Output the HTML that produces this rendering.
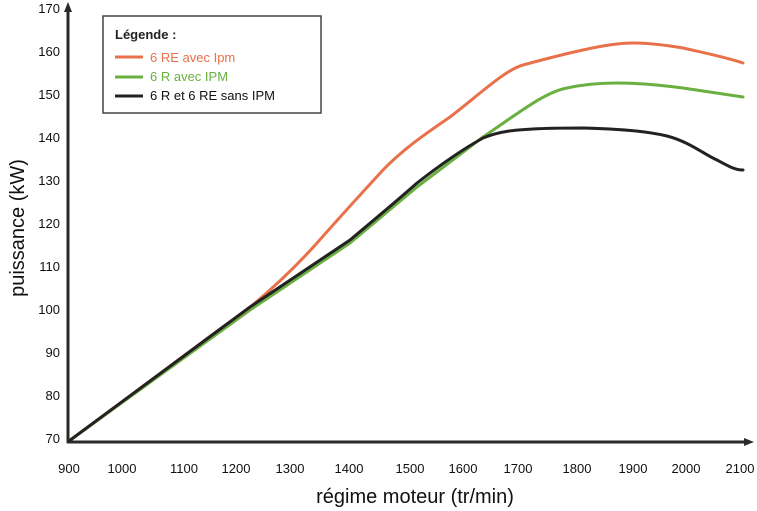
<!DOCTYPE html>
<html><head><style>body{margin:0;background:#fff}svg{display:block}text{font-family:"Liberation Sans",sans-serif}</style></head><body>
<svg width="757" height="511" viewBox="0 0 757 511">
<g stroke="#2a2a2a" stroke-width="3" fill="none">
<line x1="68" y1="443" x2="68" y2="10"/><line x1="67" y1="442" x2="746" y2="442"/>
</g>
<polygon points="68,2 64,12 72,12" fill="#2a2a2a"/>
<polygon points="754,442 744,438 744,446" fill="#2a2a2a"/>
<g font-size="13" fill="#111" text-anchor="end">
<text x="60" y="443">70</text><text x="60" y="400">80</text><text x="60" y="357">90</text><text x="60" y="314">100</text><text x="60" y="271">110</text><text x="60" y="228">120</text><text x="60" y="185">130</text><text x="60" y="142">140</text><text x="60" y="99">150</text><text x="60" y="56">160</text><text x="60" y="13">170</text>
</g>
<g font-size="13" fill="#111" text-anchor="middle">
<text x="69" y="473">900</text><text x="122" y="473">1000</text><text x="184" y="473">1100</text><text x="236" y="473">1200</text><text x="290" y="473">1300</text><text x="349" y="473">1400</text><text x="410" y="473">1500</text><text x="463" y="473">1600</text><text x="518" y="473">1700</text><text x="577" y="473">1800</text><text x="633" y="473">1900</text><text x="686" y="473">2000</text><text x="740" y="473">2100</text>
</g>
<text x="415" y="503" font-size="20" text-anchor="middle" fill="#111">régime moteur (tr/min)</text>
<text transform="translate(24,228) rotate(-90)" font-size="20" text-anchor="middle" fill="#111">puissance (kW)</text>
<g fill="none" stroke-width="3" stroke-linecap="round" stroke-linejoin="round">
<path stroke="#69b040" d="M69,441 L250,310 L350,243 L417,187 L483,137 C520,112 545,92 567,88 C585,84 600,83 617,83 C640,83 660,85 683,88 L743,97"/>
<path stroke="#e8704a" d="M69,441 L220,329 C235,318 245,312 255,303 C280,282 300,262 317,243 C340,217 360,195 383,170 C405,147 430,131 450,117 C480,94 505,70 523,65 C545,59 560,55 583,50 C605,45 620,43 633,43 C650,43 665,45 683,48 C705,53 725,57 743,63"/>
<path stroke="#222" d="M69,441 L250,307 L350,240 C380,215 400,198 417,183 C440,165 465,148 483,138 C500,131 515,130 533,129 C550,128 565,128 583,128 C620,129 645,131 667,136 C690,142 705,155 717,160 C728,166 735,170 743,170"/>
</g>
<rect x="103" y="16" width="218" height="97" fill="none" stroke="#444" stroke-width="1.5"/>
<text x="115" y="39" font-size="13" font-weight="bold" fill="#222">Légende :</text>
<g stroke-width="3"><line x1="115" y1="57" x2="143" y2="57" stroke="#e8704a"/><line x1="115" y1="77" x2="143" y2="77" stroke="#69b040"/><line x1="115" y1="96" x2="143" y2="96" stroke="#222"/></g>
<g font-size="13"><text x="150" y="62" fill="#e8704a">6 RE avec Ipm</text><text x="150" y="81" fill="#69b040">6 R avec IPM</text><text x="150" y="100" fill="#111">6 R et 6 RE sans IPM</text></g>
</svg>
</body></html>
